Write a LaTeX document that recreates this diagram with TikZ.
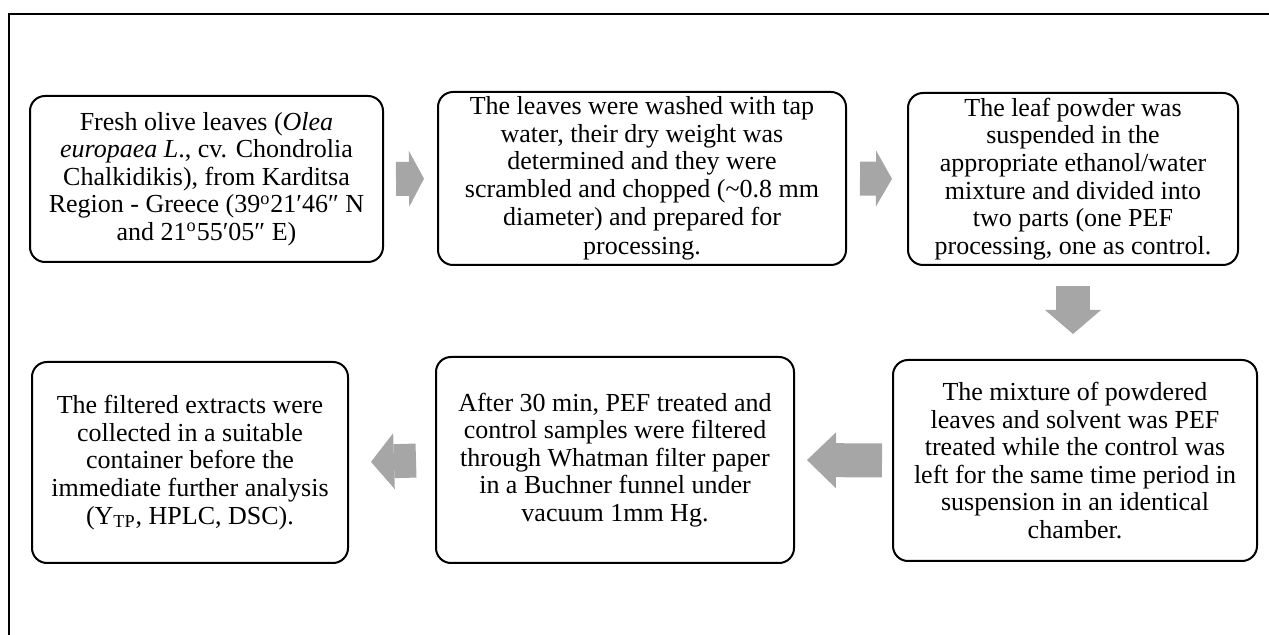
\documentclass[tikz,border=0pt]{standalone}
\usepackage{fontspec}
\setmainfont{Liberation Serif}
\usetikzlibrary{arrows.meta,positioning}
\definecolor{arrowgray}{RGB}{166,166,166}

\begin{document}
\begin{tikzpicture}[x=0.5pt,y=-0.5pt,
	stepbox/.style={draw,rounded corners=7.5pt,line width=1pt,align=center,inner sep=0pt,font=\fontsize{13}{13.8}\selectfont},
	blockarrow/.style={draw=arrowgray,line width=17pt,-{Triangle[length=#1,width=28pt,line width=0pt]}}]
	\useasboundingbox (0,0) rectangle (1269,635);
	\draw[line width=1pt] (9,635) -- (9,14) -- (1269,14);
	
	\node[stepbox,minimum width=176.5pt,minimum height=83pt] (fresh) at (206.5,179) {Fresh olive leaves (\textit{Olea}\\ \textit{europaea L}., cv. Chondrolia\\ Chalkidikis), from Karditsa\\ Region - Greece (39\textsuperscript{o}21′46″ N\\ and 21\textsuperscript{o}55′05″ E)};
	\node[stepbox,minimum width=204pt,minimum height=86.5pt] (wash) at (642,178.5) {The leaves were washed with tap\\ water, their dry weight was\\ determined and they were\\ scrambled and chopped (\textasciitilde0.8 mm\\ diameter) and prepared for\\[1pt] processing.};
	\node[stepbox,minimum width=165pt,minimum height=86pt] (suspend) at (1073,179) {The leaf powder was\\ suspended in the\\ appropriate ethanol/water\\ mixture and divided into\\ two parts (one PEF\\ processing, one as control.};
	\node[stepbox,minimum width=182pt,minimum height=100.5pt] (treat) at (1075,460.5) {The mixture of powdered\\ leaves and solvent was PEF\\ treated while the control was\\ left for the same time period in\\ suspension in an identical\\ chamber.};
	\node[stepbox,minimum width=179pt,minimum height=103pt] (filter) at (615,460) {After 30 min, PEF treated and\\ control samples were filtered\\ through Whatman filter paper\\ in a Buchner funnel under\\ vacuum 1mm Hg.};
	\node[stepbox,minimum width=158pt,minimum height=100.5pt] (collect) at (190,462.5) {The filtered extracts were\\ collected in a suitable\\ container before the\\ immediate further analysis\\ (Y\textsubscript{TP}, HPLC, DSC).};
	
	\draw[blockarrow=7.5pt,shorten <=6pt,shorten >=6.5pt] (fresh.east) -- (wash.west);
	\draw[blockarrow=8pt,shorten <=6.5pt,shorten >=7.5pt] (wash.east) -- (suspend.west);
	\draw[blockarrow=12pt,shorten <=10pt,shorten >=12.5pt] (suspend.south) -- (suspend.south |- treat.north);
	\draw[blockarrow=14.5pt,shorten <=5pt,shorten >=6pt] (treat.west) -- (filter.east);
	\draw[blockarrow=11.5pt,shorten <=9.5pt,shorten >=11pt] (filter.west) -- (collect.east);
\end{tikzpicture}
\end{document}
